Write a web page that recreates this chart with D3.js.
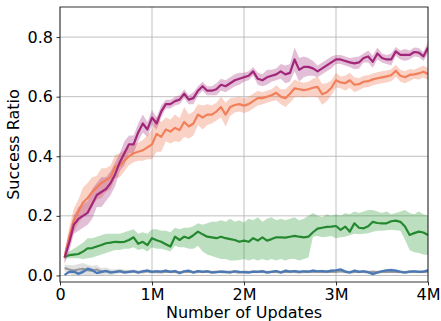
<!DOCTYPE html>
<html>
<head>
<meta charset="utf-8">
<script src="https://cdn.jsdelivr.net/npm/d3@7"></script>
<style>
	body { margin: 0; background: #fff; }
	svg { display: block; font-family: "DejaVu Sans", sans-serif; }
	.tick text { font-size: 16px; fill: #000; }
</style>
</head>
<body>
<div id="chart"></div>
<script>
// x positions: every 50k updates, 0.05M .. 4.0M
var updates = d3.range(1, 81).map(function(i) { return i * 50000; });

var purpleMean = [0.06,0.11,0.17,0.19,0.20,0.21,0.24,0.27,0.28,0.29,
	0.31,0.34,0.38,0.41,0.44,0.44,0.48,0.51,0.49,0.53,
	0.51,0.55,0.575,0.575,0.585,0.59,0.61,0.59,0.595,0.62,
	0.635,0.62,0.62,0.625,0.64,0.635,0.645,0.655,0.66,0.665,
	0.67,0.685,0.66,0.655,0.665,0.67,0.675,0.685,0.675,0.68,
	0.725,0.69,0.70,0.70,0.695,0.685,0.695,0.705,0.715,0.725,
	0.725,0.72,0.715,0.712,0.715,0.73,0.735,0.717,0.745,0.73,
	0.725,0.725,0.752,0.74,0.74,0.74,0.75,0.748,0.735,0.765];
var purpleSpread = [0.02,0.03,0.03,0.04,0.04,0.04,0.05,0.04,0.05,0.04,
	0.04,0.04,0.03,0.04,0.03,0.03,0.03,0.03,0.025,0.025,
	0.02,0.02,0.015,0.015,0.015,0.015,0.015,0.015,0.02,0.015,
	0.015,0.015,0.015,0.02,0.02,0.02,0.02,0.02,0.02,0.015,
	0.015,0.015,0.02,0.02,0.025,0.02,0.02,0.025,0.03,0.03,
	0.04,0.04,0.035,0.03,0.025,0.02,0.02,0.02,0.02,0.015,
	0.015,0.015,0.015,0.02,0.02,0.015,0.02,0.02,0.02,0.015,
	0.015,0.02,0.015,0.015,0.02,0.015,0.015,0.015,0.015,0.02];

var orangeMean = [0.06,0.13,0.185,0.215,0.245,0.26,0.28,0.295,0.31,0.32,
	0.33,0.365,0.37,0.385,0.40,0.41,0.415,0.42,0.43,0.44,
	0.475,0.465,0.49,0.483,0.495,0.488,0.515,0.50,0.51,0.54,
	0.53,0.54,0.54,0.55,0.565,0.54,0.565,0.572,0.575,0.57,
	0.575,0.585,0.595,0.595,0.60,0.605,0.613,0.60,0.595,0.61,
	0.628,0.625,0.622,0.625,0.63,0.633,0.608,0.615,0.63,0.655,
	0.648,0.645,0.655,0.64,0.642,0.65,0.652,0.658,0.662,0.665,
	0.668,0.672,0.687,0.67,0.665,0.673,0.675,0.678,0.684,0.676];
var orangeSpread = [0.02,0.03,0.04,0.04,0.05,0.05,0.05,0.04,0.05,0.04,
	0.04,0.04,0.04,0.035,0.03,0.03,0.03,0.035,0.04,0.05,
	0.06,0.05,0.04,0.04,0.045,0.04,0.05,0.04,0.04,0.035,
	0.04,0.035,0.03,0.03,0.035,0.04,0.03,0.025,0.025,0.025,
	0.025,0.025,0.025,0.02,0.02,0.02,0.025,0.025,0.03,0.03,
	0.03,0.025,0.025,0.025,0.03,0.035,0.035,0.03,0.025,0.025,
	0.02,0.025,0.025,0.025,0.02,0.02,0.02,0.02,0.02,0.02,
	0.02,0.02,0.02,0.02,0.02,0.02,0.015,0.02,0.02,0.02];

var greenMean = [0.063,0.068,0.070,0.072,0.080,0.091,0.092,0.097,0.102,0.108,
	0.110,0.113,0.112,0.113,0.119,0.128,0.106,0.113,0.102,0.125,
	0.118,0.113,0.105,0.097,0.130,0.119,0.130,0.125,0.135,0.147,
	0.138,0.130,0.128,0.125,0.130,0.125,0.122,0.119,0.113,0.117,
	0.113,0.125,0.117,0.128,0.117,0.122,0.128,0.128,0.127,0.130,
	0.133,0.130,0.128,0.130,0.145,0.157,0.160,0.163,0.164,0.166,
	0.153,0.164,0.147,0.175,0.160,0.158,0.165,0.180,0.176,0.175,
	0.175,0.182,0.184,0.180,0.164,0.136,0.142,0.147,0.144,0.136];
var greenLow = [0.055,0.058,0.058,0.058,0.055,0.058,0.06,0.065,0.07,0.075,
	0.08,0.085,0.085,0.09,0.09,0.095,0.085,0.09,0.08,0.095,
	0.09,0.09,0.085,0.08,0.10,0.095,0.095,0.09,0.09,0.10,
	0.08,0.07,0.065,0.06,0.055,0.055,0.05,0.05,0.052,0.055,
	0.05,0.055,0.05,0.055,0.05,0.055,0.05,0.055,0.05,0.055,
	0.055,0.05,0.055,0.06,0.13,0.132,0.128,0.13,0.132,0.125,
	0.128,0.13,0.135,0.14,0.138,0.14,0.142,0.147,0.15,0.15,
	0.152,0.153,0.152,0.15,0.12,0.085,0.078,0.075,0.07,0.069];
var greenHigh = [0.07,0.08,0.09,0.10,0.11,0.125,0.125,0.13,0.135,0.14,
	0.14,0.14,0.14,0.145,0.15,0.155,0.14,0.145,0.14,0.155,
	0.155,0.15,0.15,0.145,0.16,0.155,0.16,0.16,0.165,0.175,
	0.17,0.175,0.18,0.18,0.185,0.18,0.19,0.18,0.185,0.178,
	0.19,0.185,0.195,0.18,0.19,0.195,0.185,0.19,0.185,0.19,
	0.195,0.185,0.19,0.2,0.21,0.2,0.195,0.205,0.2,0.205,
	0.2,0.21,0.205,0.215,0.21,0.215,0.22,0.22,0.215,0.21,
	0.215,0.205,0.21,0.215,0.22,0.21,0.205,0.215,0.205,0.2];

var blueMean = [0.002,0.012,0.013,0.006,0.012,0.022,0.018,0.008,0.012,0.015,
	0.010,0.012,0.014,0.010,0.012,0.014,0.010,0.014,0.016,0.012,
	0.014,0.013,0.016,0.012,0.015,0.008,0.014,0.016,0.010,0.015,
	0.012,0.014,0.010,0.011,0.013,0.012,0.010,0.014,0.012,0.011,
	0.010,0.013,0.012,0.014,0.010,0.012,0.015,0.010,0.016,0.013,
	0.015,0.012,0.014,0.013,0.016,0.014,0.015,0.013,0.016,0.017,
	0.020,0.013,0.010,0.016,0.012,0.014,0.011,0.005,0.010,0.014,
	0.017,0.018,0.016,0.012,0.010,0.013,0.014,0.012,0.013,0.017];
var blueSpread = [0.004,0.005,0.006,0.006,0.006,0.007,0.006,0.005,0.005,0.005,
	0.005,0.004,0.005,0.004,0.004,0.005,0.004,0.005,0.005,0.004,
	0.004,0.004,0.005,0.004,0.004,0.005,0.004,0.004,0.004,0.004,
	0.004,0.004,0.004,0.004,0.004,0.004,0.004,0.004,0.004,0.004,
	0.004,0.004,0.004,0.005,0.004,0.004,0.004,0.004,0.005,0.004,
	0.004,0.004,0.004,0.004,0.005,0.004,0.004,0.004,0.005,0.005,
	0.006,0.005,0.004,0.005,0.004,0.004,0.004,0.006,0.005,0.004,
	0.005,0.005,0.005,0.004,0.004,0.004,0.004,0.004,0.004,0.005];

var grayMean = [0.025,0.020,0.016,0.020,0.022,0.018,0.016,0.020,0.013,0.015,
	0.011,0.012,0.015,0.012,0.012,0.014,0.011,0.012,0.014,0.012,
	0.012,0.011,0.013,0.012,0.012,0.010,0.012,0.013,0.011,0.012,
	0.012,0.013,0.011,0.012,0.012,0.011,0.012,0.012,0.010,0.012,
	0.011,0.012,0.012,0.013,0.011,0.012,0.012,0.011,0.012,0.012,
	0.012,0.011,0.012,0.012,0.013,0.012,0.012,0.012,0.013,0.012,
	0.014,0.012,0.011,0.012,0.012,0.012,0.011,0.012,0.011,0.012,
	0.012,0.013,0.012,0.012,0.011,0.012,0.012,0.012,0.012,0.013];
var graySpread = [0.012,0.015,0.018,0.018,0.02,0.018,0.016,0.015,0.012,0.012,
	0.01,0.008,0.008,0.007,0.006,0.006,0.006,0.006,0.006,0.006,
	0.006,0.005,0.005,0.005,0.005,0.005,0.005,0.005,0.005,0.005,
	0.005,0.005,0.005,0.005,0.005,0.005,0.005,0.005,0.005,0.005,
	0.005,0.005,0.005,0.006,0.005,0.005,0.005,0.005,0.005,0.005,
	0.005,0.005,0.005,0.005,0.006,0.005,0.005,0.005,0.005,0.005,
	0.006,0.005,0.005,0.005,0.005,0.005,0.005,0.005,0.005,0.005,
	0.005,0.005,0.005,0.005,0.005,0.005,0.005,0.005,0.005,0.005];

var xTicks = [0, 1e6, 2e6, 3e6, 4e6];
var xTickLabels = ['0', '1M', '2M', '3M', '4M'];
var yTicks = [0.0, 0.2, 0.4, 0.6, 0.8];

const Chart = {
	width: 441,
	height: 321,
	margin: { left: 60, right: 13, top: 7, bottom: 39 },

	draw: function() {
		var m = this.margin;
		var innerW = this.width - m.left - m.right;
		var innerH = this.height - m.top - m.bottom;

		var svg = d3.select('#chart').append('svg')
			.attr('width', this.width)
			.attr('height', this.height);

		var x = d3.scaleLinear().domain([0, 4e6]).range([0, innerW]);
		var y = d3.scaleLinear().domain([-0.022, 0.901]).range([innerH, 0]);

		var g = svg.append('g').attr('transform', 'translate(' + m.left + ',' + m.top + ')');

		svg.append('defs').append('clipPath').attr('id', 'plot-clip')
			.append('rect').attr('width', innerW).attr('height', innerH);

		// grid
		g.append('g').selectAll('line.vgrid').data(xTicks).enter()
			.append('line')
			.attr('x1', function(d) { return x(d); }).attr('x2', function(d) { return x(d); })
			.attr('y1', 0).attr('y2', innerH)
			.attr('stroke', '#b0b0b0').attr('stroke-width', 0.8);
		g.append('g').selectAll('line.hgrid').data(yTicks).enter()
			.append('line')
			.attr('x1', 0).attr('x2', innerW)
			.attr('y1', function(d) { return y(d); }).attr('y2', function(d) { return y(d); })
			.attr('stroke', '#b0b0b0').attr('stroke-width', 0.8);

		var series = [
			{ color: '#9a9a9a', fill: '#bdbdbd', alpha: 0.45, mean: grayMean,
				low: grayMean.map(function(v, i) { return v - graySpread[i]; }),
				high: grayMean.map(function(v, i) { return v + graySpread[i]; }) },
			{ color: '#4a78b5', fill: '#4a78b5', alpha: 0.3, mean: blueMean,
				low: blueMean.map(function(v, i) { return v - blueSpread[i]; }),
				high: blueMean.map(function(v, i) { return v + blueSpread[i]; }) },
			{ color: '#24892e', fill: '#2f9a3c', alpha: 0.32, mean: greenMean,
				low: greenLow, high: greenHigh },
			{ color: '#f07f5a', fill: '#f07f5a', alpha: 0.35, mean: orangeMean,
				low: orangeMean.map(function(v, i) { return v - orangeSpread[i]; }),
				high: orangeMean.map(function(v, i) { return v + orangeSpread[i]; }) },
			{ color: '#a2277a', fill: '#a2277a', alpha: 0.3, mean: purpleMean,
				low: purpleMean.map(function(v, i) { return v - purpleSpread[i]; }),
				high: purpleMean.map(function(v, i) { return v + purpleSpread[i]; }) }
		];

		var plot = g.append('g').attr('clip-path', 'url(#plot-clip)');

		series.forEach(function(s) {
			var area = d3.area()
				.x(function(d, i) { return x(updates[i]); })
				.y0(function(d, i) { return y(s.low[i]); })
				.y1(function(d, i) { return y(s.high[i]); });
			plot.append('path')
				.datum(s.mean)
				.attr('d', area)
				.attr('fill', s.fill)
				.attr('fill-opacity', s.alpha);
		});

		series.forEach(function(s) {
			var line = d3.line()
				.x(function(d, i) { return x(updates[i]); })
				.y(function(d) { return y(d); });
			plot.append('path')
				.datum(s.mean)
				.attr('d', line)
				.attr('fill', 'none')
				.attr('stroke', s.color)
				.attr('stroke-width', 2.2)
				.attr('stroke-linejoin', 'round');
		});

		// axes
		var xAxis = d3.axisBottom(x).tickValues(xTicks)
			.tickFormat(function(d, i) { return xTickLabels[i]; })
			.tickSize(3.5).tickPadding(3.5);
		var yAxis = d3.axisLeft(y).tickValues(yTicks)
			.tickFormat(d3.format('.1f'))
			.tickSize(3.5).tickPadding(3.5);

		var xg = g.append('g').attr('transform', 'translate(0,' + innerH + ')').call(xAxis);
		var yg = g.append('g').call(yAxis);
		[xg, yg].forEach(function(a) {
			a.select('.domain').remove();
			a.selectAll('.tick line').attr('stroke', '#000').attr('stroke-width', 0.8);
			a.attr('font-family', null).attr('font-size', null);
		});

		g.append('rect')
			.attr('width', innerW).attr('height', innerH)
			.attr('fill', 'none').attr('stroke', '#000').attr('stroke-width', 0.8);

		svg.append('text')
			.attr('x', m.left + innerW / 2).attr('y', 318)
			.attr('text-anchor', 'middle')
			.attr('font-size', 16)
			.text('Number of Updates');

		svg.append('text')
			.attr('transform', 'translate(19,' + (m.top + innerH / 2) + ') rotate(-90)')
			.attr('text-anchor', 'middle')
			.attr('font-size', 16)
			.text('Success Ratio');
	}
};

Chart.draw();
</script>
</body>
</html>
